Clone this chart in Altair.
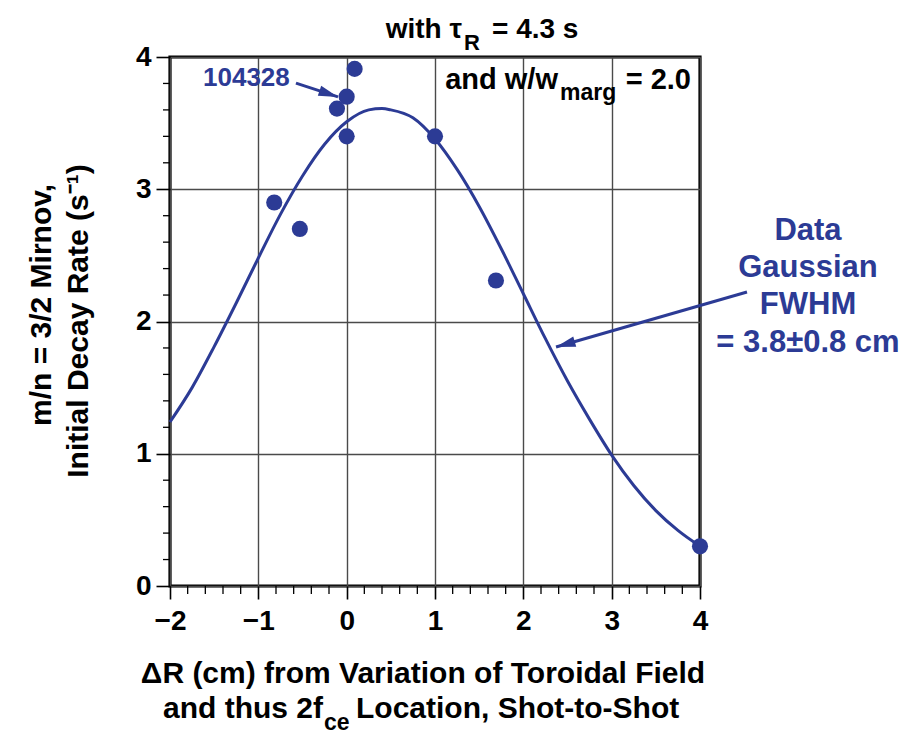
import altair as alt
import pandas as pd

# ---------------- data ----------------
# measured decay rates
pt_x = [-0.82, -0.53, -0.11, 0.0, 0.09, 0.0, 1.0, 1.69, 4.0]
pt_y = [2.90, 2.70, 3.61, 3.70, 3.91, 3.40, 3.40, 2.31, 0.30]

# Gaussian fit curve
cv_x = [-2, -1.75, -1.5, -1.25, -1, -0.75, -0.5, -0.25, 0, 0.25, 0.4, 0.5,
        0.75, 1, 1.25, 1.5, 1.75, 2, 2.25, 2.5, 2.75, 3, 3.25, 3.5, 3.75, 4]
cv_y = [1.24, 1.50, 1.81, 2.14, 2.48, 2.81, 3.10, 3.34, 3.51, 3.60, 3.61, 3.60,
        3.54, 3.38, 3.15, 2.87, 2.55, 2.21, 1.87, 1.55, 1.26, 0.99, 0.76, 0.57, 0.42, 0.30]

x_ticks = [-2, -1, 0, 1, 2, 3, 4]
y_ticks = [0, 1, 2, 3, 4]
x_minor = [round(-2 + 0.2 * i, 1) for i in range(31) if i % 5 != 0]
y_minor = [round(0.2 * i, 1) for i in range(21) if i % 5 != 0]

# annotation arrows (start -> tip, data coords)
ar_x = [-0.574, 4.532]
ar_y = [3.803, 2.223]
ar_x2 = [-0.098, 2.370]
ar_y2 = [3.698, 1.807]
ar_ang = [108.4, 253.9]

BLUE = "#2C3B95"
FONT = "Liberation Sans"
W, H = 530, 529

xs = alt.Scale(domain=[-2, 4], nice=False, zero=False)
ys = alt.Scale(domain=[0, 4], nice=False, zero=False)

pts = pd.DataFrame({"x": pt_x, "y": pt_y})
cur = pd.DataFrame({"x": cv_x, "y": cv_y})
arr = pd.DataFrame({"x": ar_x, "y": ar_y, "x2": ar_x2, "y2": ar_y2, "a": ar_ang})

curve = alt.Chart(cur).mark_line(color=BLUE, strokeWidth=3, interpolate="monotone").encode(
    x=alt.X("x:Q", scale=xs, title=None,
            axis=alt.Axis(values=x_ticks, grid=True, domain=False, tickSize=13,
                          labelPadding=8, labelFlush=False, format="d")),
    y=alt.Y("y:Q", scale=ys, title=None,
            axis=alt.Axis(values=y_ticks, grid=True, domain=False, tickSize=14,
                          labelPadding=5, labelFlush=False, format="d")),
)

points = alt.Chart(pts).mark_circle(color=BLUE, size=260, opacity=1).encode(
    x=alt.X("x:Q", scale=xs), y=alt.Y("y:Q", scale=ys))

arrow_lines = alt.Chart(arr).mark_rule(color=BLUE, strokeWidth=3).encode(
    x=alt.X("x:Q", scale=xs), y=alt.Y("y:Q", scale=ys), x2="x2:Q", y2="y2:Q")

arrow_heads = alt.Chart(arr).mark_point(
    shape="M0,0L-0.55,2L0.55,2Z", filled=True, color=BLUE, size=380, opacity=1
).encode(x=alt.X("x2:Q", scale=xs), y=alt.Y("y2:Q", scale=ys),
         angle=alt.Angle("a:Q", scale=None))

xminor = alt.Chart(pd.DataFrame({"v": x_minor})).mark_rule(color="black", strokeWidth=1.3).encode(
    x=alt.X("v:Q", scale=xs), y=alt.value(H), y2=alt.value(H + 8))
yminor = alt.Chart(pd.DataFrame({"v": y_minor})).mark_rule(color="black", strokeWidth=1.3).encode(
    y=alt.Y("v:Q", scale=ys), x=alt.value(0), x2=alt.value(-7))


def txt(s, x, y, size, color="black", align="left", baseline="alphabetic", angle=0, font=FONT):
    kw = dict(font=font, fontWeight="bold", fontSize=size, color=color,
              align=align, baseline=baseline)
    if angle:
        kw["angle"] = angle
    return alt.Chart(pd.DataFrame({"t": [s]})).mark_text(**kw).encode(
        text="t:N", x=alt.value(x), y=alt.value(y))


texts = [
    # top title
    txt("with \u03c4", 292, -19, 28, align="right"),
    txt("R", 294, -7, 22),
    txt("= 4.3 s", 322, -19, 28),
    # inside-plot label
    txt("and w/w", 388, 32, 29, align="right"),
    txt("marg", 390, 43, 23),
    txt("= 2.0", 521, 32, 29, align="right"),
    # shot number
    txt("104328", 33, 29, 26, color=BLUE),
    # fit annotation
    txt("Data", 638, 183, 31, color=BLUE, align="center"),
    txt("Gaussian", 638, 220, 31, color=BLUE, align="center"),
    txt("FWHM", 638, 257, 31, color=BLUE, align="center"),
    txt("= 3.8\u00b10.8 cm", 638, 295, 31, color=BLUE, align="center"),
    # x title
    txt("\u0394R (cm) from Variation of Toroidal Field", 253, 626, 30, align="center"),
    txt("and thus  2f", 153, 661, 30, align="right"),
    txt("ce", 154, 673, 23),
    txt("Location, Shot-to-Shot", 186, 661, 30),
    # y title
    txt("m/n = 3/2 Mirnov,", -128, 248, 30, align="center", baseline="middle", angle=270),
    txt("Initial Decay Rate (s\u207b\u00b9)", -91, 264, 30, align="center", baseline="middle", angle=270),
]

chart = alt.layer(curve, points, arrow_lines, arrow_heads, xminor, yminor, *texts).properties(
    width=W, height=H,
    autosize=alt.AutoSizeParams(type="none"),
    padding={"left": 170, "top": 57, "right": 209, "bottom": 149},
    background="white",
).configure_view(
    stroke="black", strokeWidth=3.2
).configure_axis(
    labelFont=FONT, labelFontWeight="bold", labelFontSize=28, labelColor="black",
    tickColor="black", tickWidth=1.6, gridColor="#4a4a4a", gridWidth=1.4, gridOpacity=1,
)

chart.save("out.html", embed_options={"renderer": "svg", "actions": False})
